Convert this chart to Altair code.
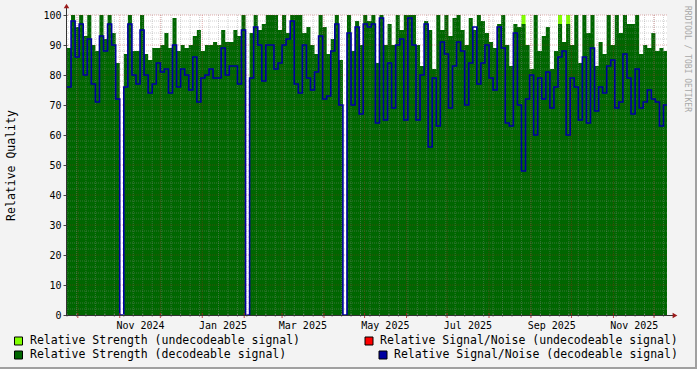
import altair as alt
import pandas as pd

# ---- data (3-day steps starting 2024-09-23) ----
strength_decodeable = [
    89, 100, 96, 100, 93, 100, 90, 88, 100, 92, 100, 94, 84,
    0,
    87, 100, 88, 88, 100, 87, 85, 89, 89, 90, 94, 89, 99, 88, 90, 89,
    90, 93, 95, 88, 90, 90, 91, 90, 95, 91, 91, 95, 93, 100,
    0,
    94, 100, 95, 97, 100, 100, 100, 95, 100, 94, 100, 100, 100, 94,
    96, 90, 87, 100, 96, 87, 92, 100, 85,
    0,
    100, 88, 98, 90, 100, 98, 100, 84, 100, 90, 97, 90, 100, 95, 100, 100, 100, 90, 83, 98,
    95, 82, 100, 95, 100, 93, 99, 100, 95, 90, 99, 95, 100, 98, 94, 91, 89, 97, 100, 90,
    83, 97, 96, 97, 90, 82, 100, 88, 93,
    96, 82, 88, 97, 91, 97, 90, 100, 84, 100, 94, 100, 83, 91, 87, 100, 90, 100, 94, 100,
    97, 97, 100, 87, 90, 89, 94, 88, 89, 88,
]
snr_decodeable = [
    76, 98, 86, 97, 80, 92, 77, 71, 93, 88, 97, 90, 72,
    0,
    76, 97, 80, 77, 95, 80, 74, 77, 84, 81, 82, 74, 90, 76, 82, 80,
    75, 86, 71, 79, 80, 82, 79, 79, 89, 80, 83, 83, 77, 95,
    0,
    79, 96, 90, 78, 90, 90, 82, 84, 90, 92, 98, 77, 74, 90,
    79, 75, 81, 93, 72, 73, 88, 97, 70,
    0,
    94, 70, 96, 67, 97, 96, 97, 64, 99, 65, 84, 69, 90, 92, 65, 99, 90, 65, 80, 97,
    56, 79, 63, 91, 87, 69, 83, 91, 88, 70, 84, 96, 77, 84, 90, 79, 75, 96, 89, 64,
    63, 94, 70, 48, 72, 80, 60, 79, 72,
    81, 69, 76, 86, 88, 60, 79, 76, 65, 86, 64, 89, 68, 76, 74, 83, 85, 69, 71, 87,
    79, 67, 82, 69, 71, 75, 72, 71, 63, 70,
]
strength_undecodeable = [0] * len(strength_decodeable)
for k in (112, 121, 123):
    strength_undecodeable[k] = 100

x_label_dates = ["2024-11-16", "2025-01-16", "2025-03-16", "2025-05-16",
                 "2025-07-16", "2025-09-16", "2025-11-16"]
y_ticks = list(range(0, 101, 10))

legend_labels = [
    "Relative Strength (undecodeable signal)",
    "Relative Strength  (decodeable signal)",
    "Relative Signal/Noise (undecodeable signal)",
    "Relative Signal/Noise (decodeable signal)",
]
legend_colors = ["#80FF00", "#006600", "#FF0000", "#0000A0"]

START = pd.Timestamp("2024-09-23")
END = pd.Timestamp("2025-12-10T14:00:00")

dates = pd.date_range(START, periods=len(strength_decodeable), freq="3D")
df = pd.DataFrame({
    "t": dates,
    "strength": strength_decodeable,
    "snr": snr_decodeable,
    "undec": strength_undecodeable,
})
df = pd.concat([df, pd.DataFrame({
    "t": [END], "strength": [strength_decodeable[-1]],
    "snr": [snr_decodeable[-1]], "undec": [strength_undecodeable[-1]],
})], ignore_index=True)

FONT = "DejaVu Sans Mono"


def dt(ts):
    ts = pd.Timestamp(ts)
    return alt.DateTime(year=ts.year, month=ts.month, date=ts.day, hours=ts.hour)


xscale = alt.Scale(domain=[dt(START), dt(END)])
yscale = alt.Scale(domain=[0, 100], nice=False, zero=True)

X_AXIS = alt.Axis(
    values=[dt(d) for d in x_label_dates], format="%b %Y", title=None,
    ticks=False, domain=False, grid=False, labelFont=FONT, labelFontSize=10,
    labelColor="#000000", labelPadding=5, labelOverlap=False, labelFlush=False)
Y_AXIS = alt.Axis(
    values=y_ticks, grid=False, domain=False, tickSize=4, tickColor="#444444",
    labelFont=FONT, labelFontSize=10, labelColor="#000000", labelPadding=2,
    title="Relative Quality", titleFont=FONT, titleFontSize=11.5,
    titleFontWeight="normal", titleColor="#000000", titleX=-56, titleY=150,
    titleBaseline="middle", titleAlign="center")


def X(field):
    return alt.X(field, scale=xscale, axis=X_AXIS)


def Y(field):
    return alt.Y(field, scale=yscale, axis=Y_AXIS)


base = alt.Chart(df)

light_area = base.mark_area(interpolate="step-after", color="#80FF00").encode(
    x=X("t:T"), y=Y("undec:Q"))

green_area = base.mark_area(interpolate="step-after", color="#006600").encode(
    x=X("t:T"), y=Y("strength:Q"))

weeks = pd.DataFrame({"t": pd.date_range(START, END, freq="7D")})
months = pd.DataFrame({"t": pd.date_range("2024-10-01", END, freq="MS")})
ymin = pd.DataFrame({"v": [v for v in range(2, 100, 2) if v % 10]})
ymaj = pd.DataFrame({"v": list(range(10, 101, 10))})

grid_kw = dict(strokeDash=[1, 1], strokeWidth=1)
g_week = alt.Chart(weeks).mark_rule(color="#8C8C8C", opacity=0.4, **grid_kw).encode(
    x=X("t:T"))
g_ymin = alt.Chart(ymin).mark_rule(color="#8C8C8C", opacity=0.4, **grid_kw).encode(
    y=Y("v:Q"))
g_month = alt.Chart(months).mark_rule(color="#B02020", opacity=0.35, **grid_kw).encode(
    x=X("t:T"))
g_ymaj = alt.Chart(ymaj).mark_rule(color="#B02020", opacity=0.35, **grid_kw).encode(
    y=Y("v:Q"))

blue_line = base.mark_line(interpolate="step-after", color="#0000A0", strokeWidth=1.6).encode(
    x=X("t:T"), y=Y("snr:Q"))

one = pd.DataFrame({"a": [0]})

# x-axis ticks
tick_month = alt.Chart(months).mark_rule(color="#B02020", opacity=0.8).encode(
    x=X("t:T"), y=alt.value(298), y2=alt.value(303))
tick_week = alt.Chart(weeks).mark_rule(color="#999999", opacity=0.8).encode(
    x=X("t:T"), y=alt.value(299), y2=alt.value(302))

axis_x = alt.Chart(one).mark_rule(color="#333333", strokeWidth=1).encode(
    x=alt.value(-1), x2=alt.value(606), y=alt.value(300.5))
axis_y = alt.Chart(one).mark_rule(color="#333333", strokeWidth=1).encode(
    x=alt.value(-0.5), y=alt.value(-7), y2=alt.value(301))
arrow_x = alt.Chart(one).mark_point(shape="triangle-right", filled=True, size=30,
                                    color="#9B1B1B", opacity=1).encode(
    x=alt.value(608), y=alt.value(300.5))
arrow_y = alt.Chart(one).mark_point(shape="triangle-up", filled=True, size=30,
                                    color="#9B1B1B", opacity=1).encode(
    x=alt.value(-0.5), y=alt.value(-9))

# legend (manual, rrdtool style)
leg_pos = [(-48.5, 326, -37), (-48.5, 340, -37), (302, 326, 313), (316, 340, 327)]
legend_layers = []
for (bx, by, tx), lab, col in zip(leg_pos, legend_labels, legend_colors):
    legend_layers.append(alt.Chart(one).mark_square(size=64, color=col, opacity=1,
                                                    stroke="#000000", strokeWidth=1).encode(
        x=alt.value(bx), y=alt.value(by)))
    legend_layers.append(alt.Chart(one).mark_text(
        text=lab, font=FONT, fontSize=11.5, align="left", baseline="middle",
        color="#000000").encode(x=alt.value(tx), y=alt.value(by)))

watermark = alt.Chart(one).mark_text(
    text="RRDTOOL / TOBI OETIKER", font=FONT, fontSize=8, angle=90,
    align="center", baseline="middle", color="#A8A8A8").encode(
    x=alt.value(620), y=alt.value(44))

frame_r = alt.Chart(one).mark_rule(color="#A0A0A0", strokeWidth=2).encode(
    x=alt.value(629), y=alt.value(-15), y2=alt.value(354))
frame_b = alt.Chart(one).mark_rule(color="#A0A0A0", strokeWidth=2).encode(
    x=alt.value(-67), x2=alt.value(630), y=alt.value(353))

chart = alt.layer(
    light_area, green_area, g_week, g_ymin, g_month, g_ymaj, blue_line,
    tick_week, tick_month, axis_x, axis_y, arrow_x, arrow_y,
    *legend_layers, watermark, frame_r, frame_b,
).properties(
    width=600, height=300,
    autosize=alt.AutoSizeParams(type="none"),
    padding={"left": 67, "top": 15, "right": 30, "bottom": 54},
    background="#F3F3F3",
).configure_view(fill="#FFFFFF", stroke=None)

chart.save("out.html", embed_options={"renderer": "svg", "actions": False})
